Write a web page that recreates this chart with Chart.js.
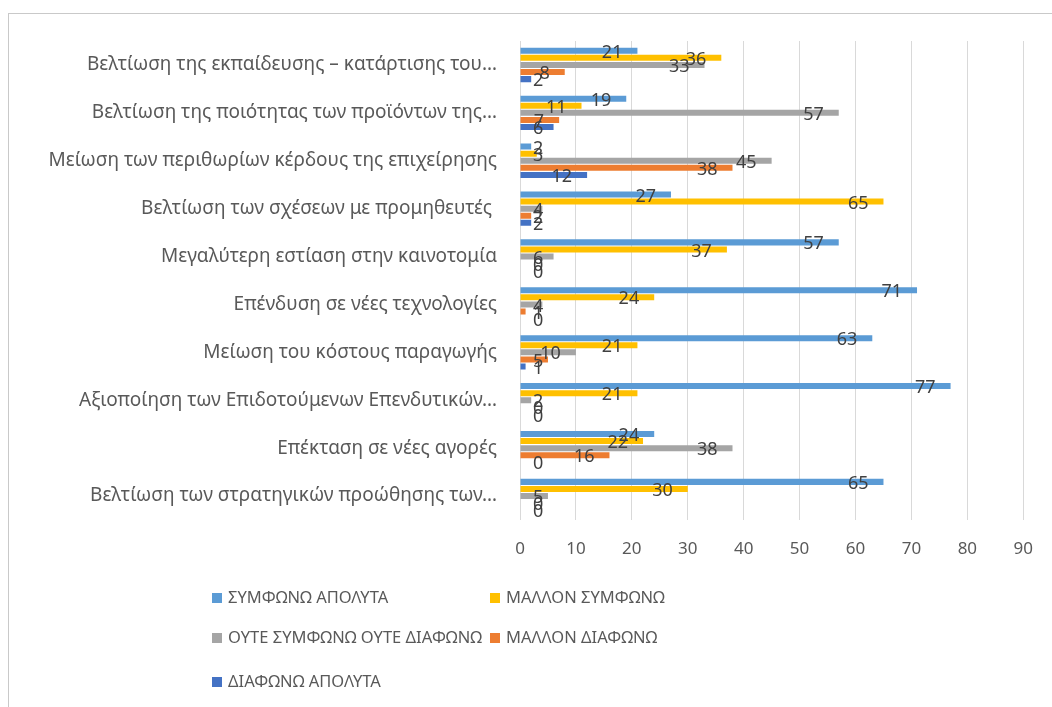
<!DOCTYPE html>
<html>
<head>
<meta charset="utf-8">
<script src="https://cdn.jsdelivr.net/npm/chart.js@4"></script>
<style>
    body { margin: 0; background: #fff; }
    #wrap { position: relative; width: 1052px; height: 707px; overflow: hidden; background: #fff; }
    #frame { position: absolute; left: 8px; top: 13px; width: 1100px; height: 800px; border-top: 1px solid #c9c9c9; border-left: 1px solid #c9c9c9; }
    canvas { position: absolute; left: 0; top: 0; }
    .leg { position: absolute; font-family: "Noto Sans", sans-serif; font-size: 16.5px; color: #595959; white-space: nowrap; line-height: 20px; }
    .leg span { display: inline-block; width: 10px; height: 10px; margin-right: 6px; vertical-align: 0px; }
</style>
</head>
<body>
<div id="wrap">
    <div id="frame"></div>
    <canvas id="chart" width="1052" height="707"></canvas>
    <div id="legend"></div>
</div>
<script>
// categories, top to bottom as in the picture
const categories = [
    'Βελτίωση της εκπαίδευσης – κατάρτισης του…',
    'Βελτίωση της ποιότητας των προϊόντων της…',
    'Μείωση των περιθωρίων κέρδους της επιχείρησης',
    'Βελτίωση των σχέσεων με προμηθευτές ',
    'Μεγαλύτερη εστίαση στην καινοτομία',
    'Επένδυση σε νέες τεχνολογίες',
    'Μείωση του κόστους παραγωγής',
    'Αξιοποίηση των Επιδοτούμενων Επενδυτικών…',
    'Επέκταση σε νέες αγορές',
    'Βελτίωση των στρατηγικών προώθησης των…'
];

const seriesNames = ['ΣΥΜΦΩΝΩ ΑΠΟΛΥΤΑ', 'ΜΑΛΛΟΝ ΣΥΜΦΩΝΩ', 'ΟΥΤΕ ΣΥΜΦΩΝΩ ΟΥΤΕ ΔΙΑΦΩΝΩ', 'ΜΑΛΛΟΝ ΔΙΑΦΩΝΩ', 'ΔΙΑΦΩΝΩ ΑΠΟΛΥΤΑ'];
const agreeFully    = [21, 19, 2, 27, 57, 71, 63, 77, 24, 65];
const agreeMostly   = [36, 11, 3, 65, 37, 24, 21, 21, 22, 30];
const neutral       = [33, 57, 45, 4, 6, 4, 10, 2, 38, 5];
const disagreeMost  = [8, 7, 38, 2, 0, 1, 5, 0, 16, 0];
const disagreeFully = [2, 6, 12, 2, 0, 0, 1, 0, 0, 0];
const xTicks = [0, 10, 20, 30, 40, 50, 60, 70, 80, 90];

const colors = ['#5B9BD5', '#FFC000', '#A5A5A5', '#ED7D31', '#4472C4'];
const values = [agreeFully, agreeMostly, neutral, disagreeMost, disagreeFully];

const FONT = '"Noto Sans", sans-serif';

// Excel-like "inside end" value labels
const valueLabels = {
    id: 'valueLabels',
    afterDatasetsDraw(chart) {
        const ctx = chart.ctx;
        const xs = chart.scales.x;
        const axisX = xs.getPixelForValue(0);
        ctx.save();
        ctx.font = '18px ' + FONT;
        ctx.fillStyle = '#404040';
        ctx.textBaseline = 'middle';
        chart.data.datasets.forEach((ds, i) => {
            chart.getDatasetMeta(i).data.forEach((bar, j) => {
                const txt = String(ds.data[j]);
                const w = ctx.measureText(txt).width;
                let left = xs.getPixelForValue(ds.data[j]) - 15 - w;
                if (left < axisX + 13) left = axisX + 13;
                ctx.fillText(txt, left, bar.y + 2);
            });
        });
        ctx.restore();
    }
};

new Chart(document.getElementById('chart'), {
    type: 'bar',
    data: {
        labels: categories,
        datasets: seriesNames.map((name, i) => ({
            label: name,
            data: values[i],
            backgroundColor: colors[i],
            categoryPercentage: 0.74,
            barPercentage: 0.85
        }))
    },
    options: {
        indexAxis: 'y',
        responsive: false,
        animation: false,
        layout: { padding: { top: 41, right: 26, bottom: 137, left: 0 } },
        plugins: {
            legend: { display: false },
            tooltip: { enabled: false }
        },
        scales: {
            x: {
                min: 0,
                max: 90,
                afterBuildTicks: (scale) => { scale.ticks = xTicks.map(v => ({ value: v })); },
                afterFit: (scale) => { scale.height = 50; },
                grid: { color: '#d9d9d9', drawTicks: false },
                border: { display: false },
                ticks: { color: '#595959', padding: 19, font: { family: FONT, size: 17 } }
            },
            y: {
                afterFit: (scale) => { scale.width = 520; },
                grid: { display: false },
                border: { display: false },
                ticks: { color: '#595959', padding: 15, font: { family: FONT, size: 19 }, autoSkip: false }
            }
        }
    },
    plugins: [valueLabels]
});

// legend in two columns, like the original
const legendPos = [[212, 587], [490, 587], [212, 627], [490, 627], [212, 671]];
const legend = document.getElementById('legend');
seriesNames.forEach((name, i) => {
    const d = document.createElement('div');
    d.className = 'leg';
    d.style.left = legendPos[i][0] + 'px';
    d.style.top = legendPos[i][1] + 'px';
    d.innerHTML = `<span style="background:${colors[i]}"></span>${name}`;
    legend.appendChild(d);
});
</script>
</body>
</html>
